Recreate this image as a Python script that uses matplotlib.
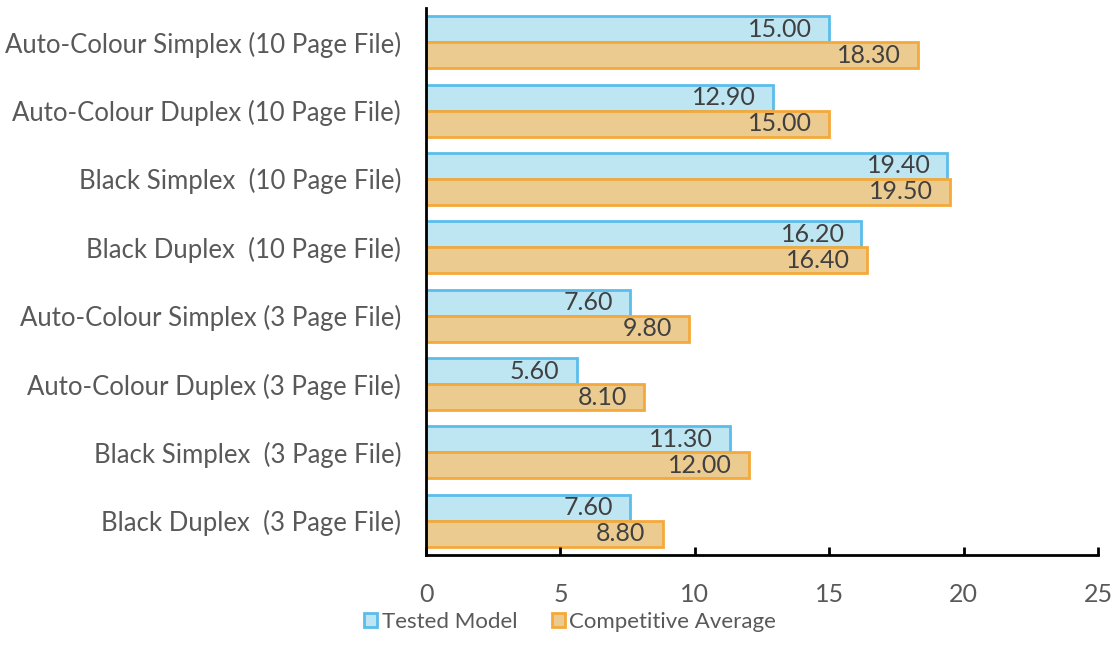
import matplotlib
matplotlib.use("Agg")
import matplotlib.pyplot as plt
import numpy as np

categories = [
    "Auto-Colour Simplex (10 Page File)",
    "Auto-Colour Duplex (10 Page File)",
    "Black Simplex  (10 Page File)",
    "Black Duplex  (10 Page File)",
    "Auto-Colour Simplex (3 Page File)",
    "Auto-Colour Duplex (3 Page File)",
    "Black Simplex  (3 Page File)",
    "Black Duplex  (3 Page File)",
]
tested = [15.00, 12.90, 19.40, 16.20, 7.60, 5.60, 11.30, 7.60]
competitive = [18.30, 15.00, 19.50, 16.40, 9.80, 8.10, 12.00, 8.80]
series_names = ["Tested Model", "Competitive Average"]
xticks = [0, 5, 10, 15, 20, 25]

plt.rcParams['font.family'] = ['Lato', 'DejaVu Sans']

fig = plt.figure(figsize=(11.14, 6.62), dpi=100)
W, H = 1114, 662
ax = fig.add_axes([426 / W, 1 - 555 / H, (1098 - 426) / W, (555 - 8) / H])

n = len(categories)
y = np.arange(n)[::-1].astype(float)
bh = 0.38
blue_face, blue_edge = '#BEE5F2', '#5BBDEB'
org_face, org_edge = '#EBCB8F', '#F5A93A'

b1 = ax.barh(y + bh / 2, tested, height=bh, color=blue_face, edgecolor=blue_edge,
             linewidth=2, label=series_names[0])
b2 = ax.barh(y - bh / 2, competitive, height=bh, color=org_face, edgecolor=org_edge,
             linewidth=2, label=series_names[1])

for bars, vals in ((b1, tested), (b2, competitive)):
    for rect, v in zip(bars, vals):
        ax.annotate(f"{v:.2f}", xy=(v, rect.get_y() + rect.get_height() / 2),
                    xytext=(-17, 0), textcoords='offset pixels',
                    ha='right', va='center', fontsize=18, color='#404040')

ax.set_xlim(0, 25)
ax.set_ylim(-0.5, n - 0.5)
ax.set_xticks(xticks)
ax.set_xticklabels([str(t) for t in xticks])
ax.set_yticks(y)
ax.set_yticklabels(categories)

for s in ('top', 'right'):
    ax.spines[s].set_visible(False)
for s in ('left', 'bottom'):
    ax.spines[s].set_linewidth(2)
    ax.spines[s].set_color('black')

ax.tick_params(axis='x', direction='in', length=6, width=2, pad=20,
               labelsize=18, labelcolor='#595959')
ax.tick_params(axis='y', length=0, pad=18, labelsize=18.5, labelcolor='#595959')

leg = fig.legend(handles=[b1, b2], labels=series_names, loc='center',
                 bbox_to_anchor=(570 / W, 1 - 622 / H), ncol=2, frameon=False,
                 fontsize=16, handlelength=0.6, handleheight=0.6,
                 handletextpad=0.2, columnspacing=1.55)
for t in leg.get_texts():
    t.set_color('#595959')

fig.savefig('out.png', dpi=100)
